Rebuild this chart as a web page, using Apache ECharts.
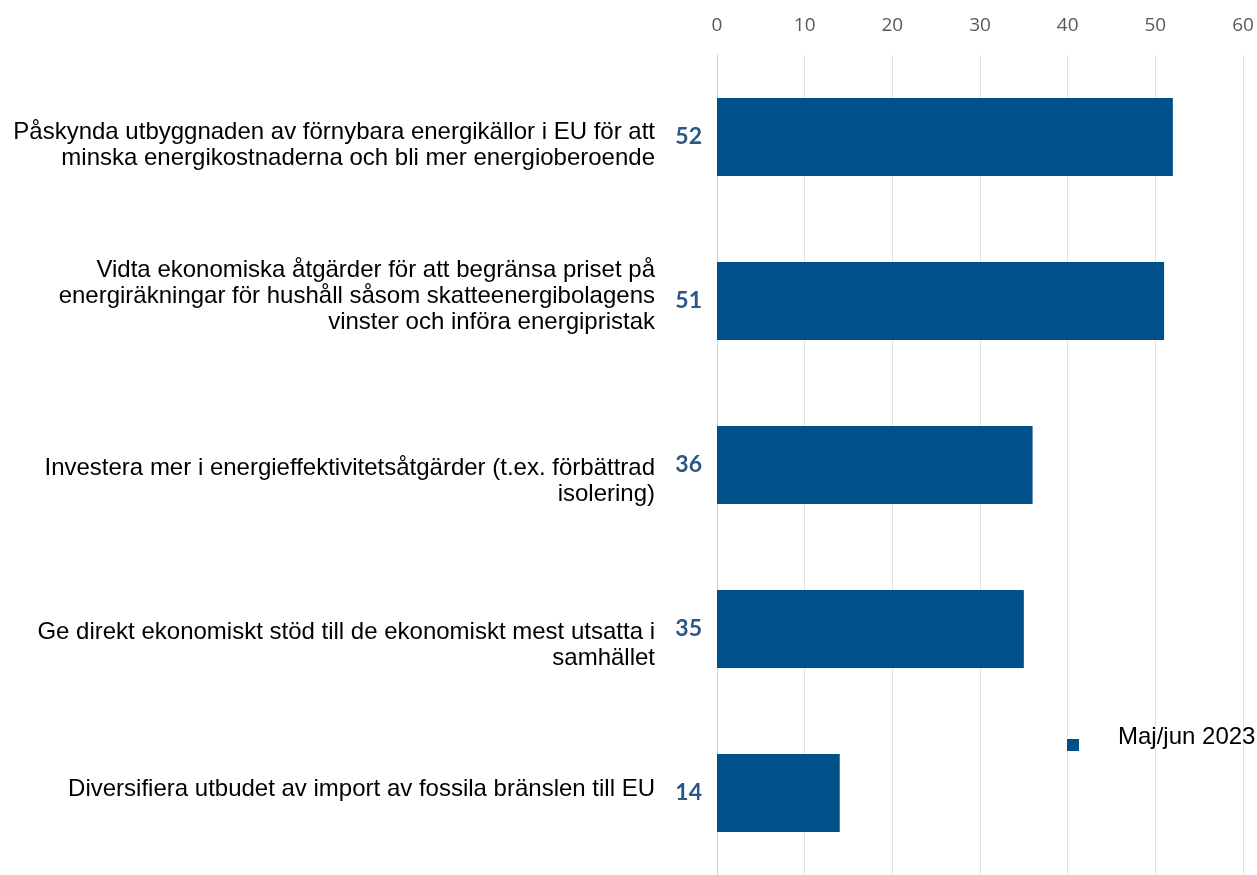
<!DOCTYPE html>
<html>
<head>
<meta charset="utf-8">
<script src="https://cdn.jsdelivr.net/npm/echarts@6/dist/echarts.min.js"></script>
<style>
  html, body { margin: 0; padding: 0; background: #ffffff; }
  #chart { width: 1257px; height: 875px; }
</style>
</head>
<body>
<div id="chart"></div>
<script>
// Åtgärder mot höga energipriser, andel (%)
const categories = [
  'Påskynda utbyggnaden av förnybara energikällor i EU för att\nminska energikostnaderna och bli mer energioberoende',
  'Vidta ekonomiska åtgärder för att begränsa priset på\nenergiräkningar för hushåll såsom skatteenergibolagens\nvinster och införa energipristak',
  'Investera mer i energieffektivitetsåtgärder (t.ex. förbättrad\nisolering)',
  'Ge direkt ekonomiskt stöd till de ekonomiskt mest utsatta i\nsamhället',
  'Diversifiera utbudet av import av fossila bränslen till EU'
];
const values = [52, 51, 36, 35, 14];
const seriesName = 'Maj/jun 2023';
const xTicks = [0, 10, 20, 30, 40, 50, 60];

// vertical nudge of each category label (px, positive = down)
const labelShift = [8, -5, 16, 16, -4];

const catFont = {
  fontFamily: 'Liberation Sans, Arial, sans-serif',
  fontSize: 24,
  lineHeight: 26,
  color: '#000000'
};

// rich styles: 'n' for text lines, 'sN' for an empty spacer line N px tall
const rich = { n: Object.assign({}, catFont) };
labelShift.forEach(d => {
  const h = Math.abs(d) * 2;
  rich['s' + h] = { fontSize: 1, lineHeight: h };
});

// a spacer above pushes the block down, a spacer below lifts it up
function catLabel(value, index) {
  const lines = String(value).split('\n').map(l => '{n|' + l + '}');
  const d = labelShift[index] || 0;
  const spacer = '{s' + Math.abs(d) * 2 + '| }';
  if (d > 0) lines.unshift(spacer);
  if (d < 0) lines.push(spacer);
  return lines.join('\n');
}

const chart = echarts.init(document.getElementById('chart'));

chart.setOption({
  animation: false,
  backgroundColor: '#ffffff',
  grid: { left: 717, right: 14, top: 55, bottom: -3, containLabel: false },
  legend: {
    data: [seriesName],
    left: 1062,
    top: 720,
    icon: 'rect',
    itemWidth: 12,
    itemHeight: 12,
    formatter: name => '{t|' + name + '}\n{g| }',
    textStyle: {
      padding: [0, 0, 0, 34],
      rich: {
        t: {
          fontFamily: 'Liberation Sans, Arial, sans-serif',
          fontSize: 24,
          lineHeight: 26,
          color: '#000000'
        },
        g: { fontSize: 1, lineHeight: 16 }
      }
    }
  },
  xAxis: {
    type: 'value',
    position: 'top',
    min: xTicks[0],
    max: xTicks[xTicks.length - 1],
    interval: 10,
    axisLine: { show: false },
    axisTick: { show: false },
    axisLabel: {
      margin: 20,
      color: '#595959',
      fontFamily: 'Open Sans, sans-serif',
      fontSize: 19
    },
    splitLine: { show: true, lineStyle: { color: '#e3e3e3', width: 1 } }
  },
  yAxis: {
    type: 'category',
    inverse: true,
    data: categories,
    axisLine: { show: true, lineStyle: { color: '#d0d0d0', width: 1 } },
    axisTick: { show: false },
    axisLabel: Object.assign({
      margin: 62,
      align: 'right',
      formatter: catLabel,
      rich: rich
    }, catFont)
  },
  series: [{
    name: seriesName,
    type: 'bar',
    data: values,
    barWidth: 78,
    itemStyle: { color: '#00508a' },
    label: {
      show: true,
      position: 'left',
      distance: 15,
      color: '#2a5884',
      fontFamily: 'Lato, sans-serif',
      fontWeight: 'bold',
      fontSize: 23
    }
  }]
});
</script>
</body>
</html>
